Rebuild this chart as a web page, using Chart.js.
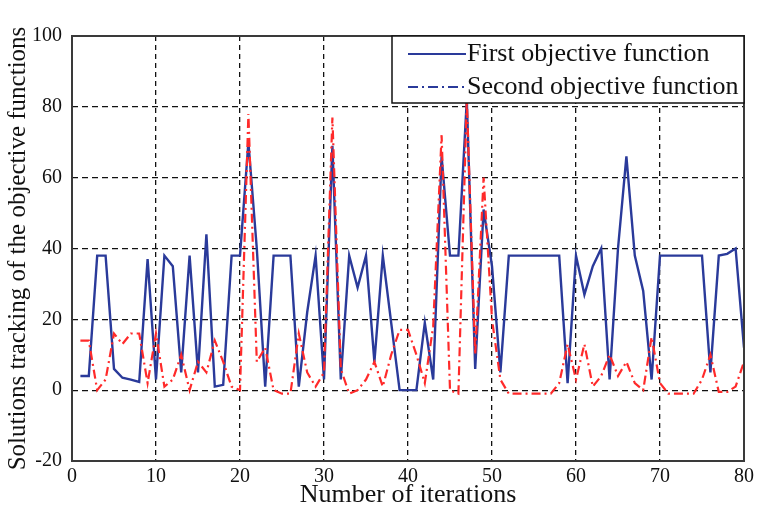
<!DOCTYPE html>
<html>
<head>
<meta charset="utf-8">
<script src="https://cdn.jsdelivr.net/npm/chart.js@4/dist/chart.umd.min.js"></script>
<style>
  html, body { margin: 0; padding: 0; background: #fff; }
  #grafica { display: block; }
</style>
</head>
<body>
<canvas id="grafica" width="758" height="514"></canvas>
<script>
// iteraciones y valores
const iteraciones = [1, 2, 3, 4, 5, 6, 7, 8, 9, 10, 11, 12, 13, 14, 15, 16, 17, 18, 19, 20,
  21, 22, 23, 24, 25, 26, 27, 28, 29, 30, 31, 32, 33, 34, 35, 36, 37, 38, 39, 40,
  41, 42, 43, 44, 45, 46, 47, 48, 49, 50, 51, 52, 53, 54, 55, 56, 57, 58, 59, 60,
  61, 62, 63, 64, 65, 66, 67, 68, 69, 70, 71, 72, 73, 74, 75, 76, 77, 78, 79, 80];

const primerObjetivo = [4, 4, 38, 38, 6, 3.5, 3, 2.3, 37, 3,
  38, 35, 5, 38, 5, 44, 1, 1.5, 38, 38,
  70, 40, 1, 38, 38, 38, 1, 22, 38, 3,
  69, 3, 38, 29, 38, 8, 38, 19, 0, 0,
  0, 19, 3, 66, 38, 38, 82, 6, 51, 35,
  5, 38, 38, 38, 38, 38, 38, 38, 2, 38,
  27, 35, 40, 3, 40, 66, 38, 28, 3, 38,
  38, 38, 38, 38, 38, 5, 38, 38.5, 40, 12];

const segundoObjetivo = [14, 14, 0, 3, 16, 13, 16, 16, 2, 16,
  1, 3, 10, 0, 8, 5, 14, 8, 1, 0,
  78, 8, 12, 0, -1, -1, 16, 5, 1, 5,
  77, 6, -1, 0, 3, 8, 1, 10, 17, 17,
  10, 2, 18, 72, 0, -1, 82, 10, 60, 20,
  3, -1, -1, -1, -1, -1, -1, 2, 13, 3,
  13, 1, 4, 10, 4, 8, 2, 0, 15, 2,
  -1, -1, -1, -1, 3, 10, -0.5, -0.5, 1, 8];

const ticksY = [-20, 0, 20, 40, 60, 80, 100];
const ticksX = [0, 10, 20, 30, 40, 50, 60, 70, 80];

const nombres = ['First objective function', 'Second objective function'];
const azul = '#2a3a9a';
const rojo = '#ff2a2a';
const fuente = '"Liberation Serif", "Times New Roman", serif';

function puntos(valores) {
  return iteraciones.map((x, i) => ({ x: x, y: valores[i] }));
}

// caja del grafico y leyenda dentro del area
const cajaYLeyenda = {
  id: 'cajaYLeyenda',
  afterDraw(chart) {
    const ctx = chart.ctx;
    const a = chart.chartArea;
    ctx.save();
    ctx.strokeStyle = '#3a3a3a';
    ctx.lineWidth = 2;
    ctx.setLineDash([]);
    ctx.strokeRect(a.left, a.top, a.right - a.left, a.bottom - a.top);

    const x0 = 392, y0 = a.top, x1 = a.right, y1 = 103;
    ctx.fillStyle = '#fff';
    ctx.fillRect(x0, y0, x1 - x0, y1 - y0);
    ctx.lineWidth = 1.5;
    ctx.strokeStyle = '#111';
    ctx.strokeRect(x0, y0, x1 - x0, y1 - y0);

    const filas = [54, 87];
    const guiones = [[], [10, 4, 2, 4]];
    ctx.font = '26px ' + fuente;
    ctx.textBaseline = 'middle';
    ctx.textAlign = 'left';
    filas.forEach((y, i) => {
      ctx.beginPath();
      ctx.strokeStyle = azul;
      ctx.lineWidth = 2;
      ctx.setLineDash(guiones[i]);
      ctx.moveTo(408, y);
      ctx.lineTo(466, y);
      ctx.stroke();
      ctx.setLineDash([]);
      ctx.fillStyle = '#111';
      ctx.fillText(nombres[i], 467, y);
    });
    ctx.restore();
  }
};

new Chart(document.getElementById('grafica'), {
  type: 'line',
  data: {
    datasets: [
      {
        label: nombres[0],
        data: puntos(primerObjetivo),
        borderColor: azul,
        borderWidth: 2.4,
        pointRadius: 0,
        tension: 0,
        order: 1
      },
      {
        label: nombres[1],
        data: puntos(segundoObjetivo),
        borderColor: rojo,
        borderWidth: 2.2,
        borderDash: [9, 4, 2, 4],
        pointRadius: 0,
        tension: 0,
        order: 0
      }
    ]
  },
  options: {
    responsive: false,
    animation: false,
    layout: { padding: { top: 36, right: 10, left: 0, bottom: 0 } },
    plugins: {
      legend: { display: false },
      tooltip: { enabled: false }
    },
    scales: {
      x: {
        type: 'linear',
        min: 0,
        max: 80,
        afterBuildTicks: (s) => { s.ticks = ticksX.map(v => ({ value: v })); },
        afterFit: (s) => { s.height = 53; },
        grid: { color: '#111', lineWidth: 1.3, drawTicks: false },
        border: { display: false, dash: [5, 4] },
        ticks: { color: '#111', padding: 4, font: { family: fuente, size: 20 } },
        title: {
          display: true,
          text: 'Number of iterations',
          color: '#111',
          padding: { top: 0, bottom: 3 },
          font: { family: fuente, size: 26 }
        }
      },
      y: {
        min: -20,
        max: 100,
        afterBuildTicks: (s) => { s.ticks = ticksY.map(v => ({ value: v })); },
        afterFit: (s) => { s.width = 72; },
        grid: { color: '#111', lineWidth: 1.3, drawTicks: false },
        border: { display: false, dash: [6, 4] },
        ticks: { color: '#111', padding: 10, font: { family: fuente, size: 20 } },
        title: {
          display: true,
          text: 'Solutions tracking of the objective functions',
          color: '#111',
          padding: { top: 3, bottom: 0 },
          font: { family: fuente, size: 25 }
        }
      }
    }
  },
  plugins: [cajaYLeyenda]
});
</script>
</body>
</html>
